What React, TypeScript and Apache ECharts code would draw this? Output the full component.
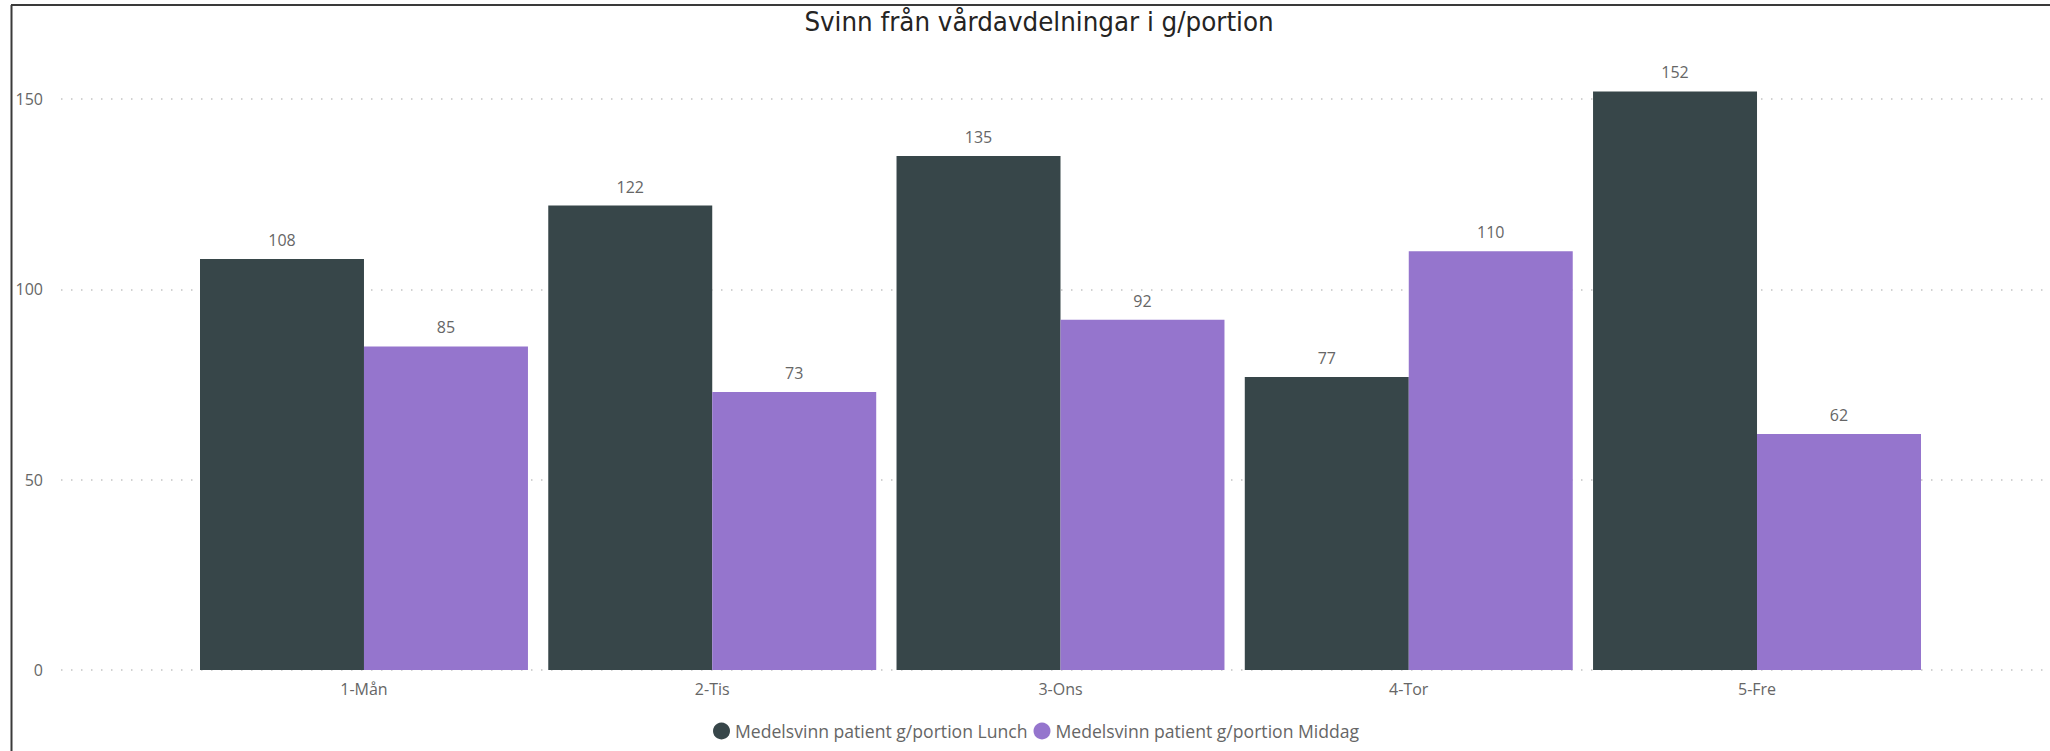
import React, { useEffect, useRef } from "react";
import * as echarts from "echarts";

const categories = ["1-Mån", "2-Tis", "3-Ons", "4-Tor", "5-Fre"];
const lunchValues = [108, 122, 135, 77, 152];
const middagValues = [85, 73, 92, 110, 62];
const seriesNames = [
  "Medelsvinn patient g/portion Lunch",
  "Medelsvinn patient g/portion Middag",
];
const titleText = "Svinn från vårdavdelningar i g/portion";
const yMin = 0;
const yMax = 150;
const yInterval = 50;

const FONT = "'Open Sans', 'Noto Sans', sans-serif";
const TEXT_GREY = "#666666";

export default function App() {
  const ref = useRef<HTMLDivElement>(null);

  useEffect(() => {
    document.body.style.margin = "0";
    if (!ref.current) return;
    const chart = echarts.init(ref.current, undefined, { renderer: "svg" });
    const option: any = {
      animation: false,
      backgroundColor: "#ffffff",
      title: {
        text: titleText,
        left: 1034,
        textAlign: "center",
        top: 3,
        textStyle: {
          fontFamily: "'Liberation Sans Narrow', 'DejaVu Sans Condensed', sans-serif",
          fontSize: 27.4,
          fontWeight: "normal",
          color: "#252423",
        },
      },
      legend: {
        data: seriesNames,
        left: 708,
        top: 717,
        icon: "circle",
        itemWidth: 17,
        itemHeight: 17,
        itemGap: 6,
        textStyle: { fontFamily: FONT, fontSize: 17.6, color: TEXT_GREY },
      },
      graphic: [
        {
          type: "line",
          shape: { x1: 11.5, y1: 5, x2: 11.5, y2: 751 },
          style: { stroke: "#3a3a3a", lineWidth: 2 },
          silent: true,
        },
        {
          type: "line",
          shape: { x1: 11, y1: 5, x2: 2050, y2: 5 },
          style: { stroke: "#3a3a3a", lineWidth: 2 },
          silent: true,
        },
      ],
      grid: [
        { left: 61, right: 0, top: 99, bottom: 81, containLabel: false },
        { left: 189.85, right: 118.85, top: 99, bottom: 81, containLabel: false },
      ],
      xAxis: [
        { gridIndex: 0, type: "value", show: false, min: 0, max: 1 },
        {
          gridIndex: 1,
          type: "category",
          data: categories,
          axisLine: { show: false },
          axisTick: { show: false },
          axisLabel: {
            margin: 11,
            fontFamily: FONT,
            fontSize: 16,
            color: TEXT_GREY,
          },
        },
      ],
      yAxis: [
        {
          gridIndex: 0,
          type: "value",
          min: yMin,
          max: yMax,
          interval: yInterval,
          axisLine: { show: false },
          axisTick: { show: false },
          axisLabel: {
            margin: 18,
            fontFamily: FONT,
            fontSize: 16,
            color: TEXT_GREY,
          },
          splitLine: {
            show: true,
            lineStyle: { color: "#c4c4c4", width: 1.5, type: [1.5, 8.5] },
          },
        },
        {
          gridIndex: 1,
          type: "value",
          min: yMin,
          max: yMax,
          interval: yInterval,
          show: false,
          splitLine: { show: false },
        },
      ],
      series: [
        {
          name: seriesNames[0],
          type: "bar",
          xAxisIndex: 1,
          yAxisIndex: 1,
          data: lunchValues,
          clip: false,
          barGap: "0%",
          barCategoryGap: "5.83%",
          itemStyle: { color: "#374649" },
          label: {
            show: true,
            position: "top",
            distance: 11,
            fontFamily: FONT,
            fontSize: 16,
            color: TEXT_GREY,
          },
        },
        {
          name: seriesNames[1],
          type: "bar",
          xAxisIndex: 1,
          yAxisIndex: 1,
          data: middagValues,
          clip: false,
          barGap: "0%",
          barCategoryGap: "5.83%",
          itemStyle: { color: "#9575cd" },
          label: {
            show: true,
            position: "top",
            distance: 11,
            fontFamily: FONT,
            fontSize: 16,
            color: TEXT_GREY,
          },
        },
      ],
    };
    chart.setOption(option);
    return () => chart.dispose();
  }, []);

  return <div ref={ref} style={{ width: 2050, height: 751 }} />;
}
